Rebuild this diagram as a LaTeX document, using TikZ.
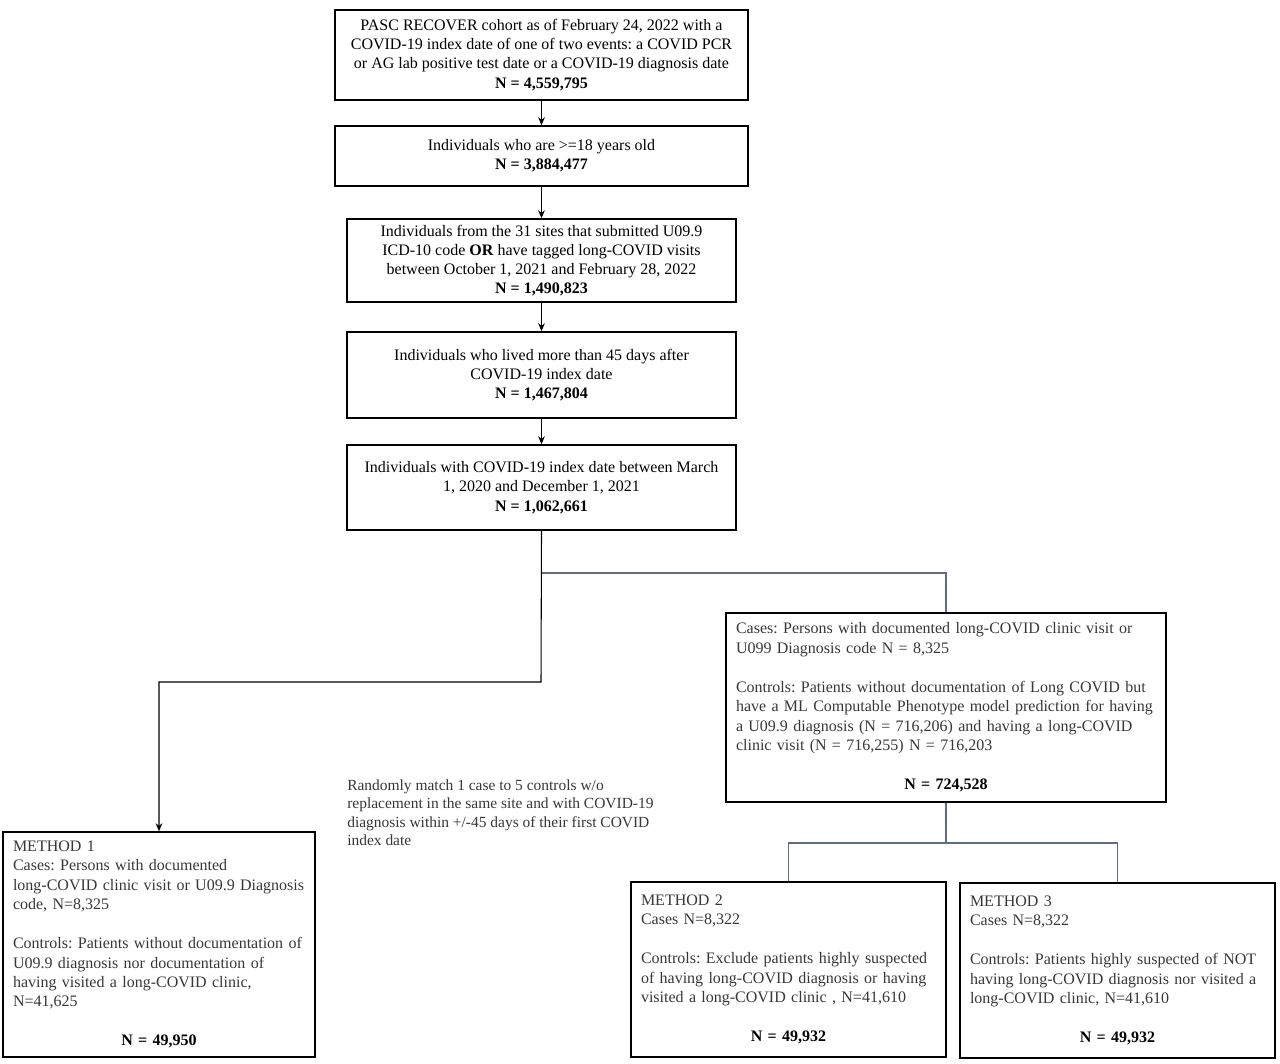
\documentclass[tikz,border=0pt]{standalone}
\usepackage{fontspec}
\setmainfont{Liberation Serif}
\usetikzlibrary{arrows.meta}
\definecolor{linkc}{RGB}{95,108,135}
\definecolor{txtg}{RGB}{55,55,55}
\tikzset{
  box/.style={draw=black, line width=1.1pt, inner sep=0pt, align=center,
    font=\fontsize{12}{14.4}\selectfont},
  lbox/.style={draw=black, line width=1.1pt, inner xsep=7.5pt, inner ysep=0pt,
    align=left, text=txtg, font=\fontsize{12}{14.6}\selectfont},
  arr/.style={black, line width=0.8pt, -{Stealth[length=6pt,width=5pt]}},
  link/.style={linkc, line width=0.9pt},
}
\frenchspacing
\begin{document}
\begin{tikzpicture}[x=0.75pt,y=-0.75pt]
\useasboundingbox (0,0) rectangle (1280,1063);

\node[box, minimum width=309.75pt, minimum height=67.5pt] (b1) at (541.5,55)
  {PASC RECOVER cohort as of February 24, 2022 with a\\
   COVID-19 index date of one of two events: a COVID PCR\\
   or AG lab positive test date or a COVID-19 diagnosis date\\
   \textbf{N = 4,559,795}};
\node[box, minimum width=309.75pt, minimum height=45pt] (b2) at (541.5,156)
  {Individuals who are >=18 years old\\ \textbf{N = 3,884,477}};
\node[box, minimum width=291.75pt, minimum height=62.25pt] (b3) at (541.5,260.5)
  {Individuals from the 31 sites that submitted U09.9\\
   ICD-10 code \textbf{OR} have tagged long-COVID visits\\
   between October 1, 2021 and February 28, 2022\\
   \textbf{N = 1,490,823}};
\node[box, minimum width=291.75pt, minimum height=64.5pt] (b4) at (541.5,375)
  {Individuals who lived more than 45 days after\\
   COVID-19 index date\\
   \textbf{N = 1,467,804}};
\node[box, minimum width=291.75pt, minimum height=63.75pt] (b5) at (541.5,487.5)
  {Individuals with COVID-19 index date between March\\
   1, 2020 and December 1, 2021\\
   \textbf{N = 1,062,661}};

\node[lbox, text width=315pt, minimum width=330pt, minimum height=141.75pt] (b6) at (946,707.5)
  {Cases: Persons with documented long-COVID clinic visit or\\
   U099 Diagnosis code N = 8,325\\[14.6pt]
   Controls: Patients without documentation of Long COVID but\\
   have a ML Computable Phenotype model prediction for having\\
   a U09.9 diagnosis (N = 716,206) and having a long-COVID\\
   clinic visit (N = 716,255) N = 716,203\par\vspace{14.6pt}
   {\centering\color{black}\textbf{N = 724,528}\par}};

\node[lbox, text width=219pt, minimum width=234pt, minimum height=168.75pt] (m1) at (159,944.5)
  {METHOD 1\\
   Cases: Persons with documented\\
   long-COVID clinic visit or U09.9 Diagnosis\\
   code, N=8,325\\[14.6pt]
   Controls: Patients without documentation of\\
   U09.9 diagnosis nor documentation of\\
   having visited a long-COVID clinic,\\
   N=41,625\par\vspace{14.6pt}
   {\centering\color{black}\textbf{N = 49,950}\par}};

\node[lbox, text width=221.25pt, minimum width=236.25pt, minimum height=131.25pt] (m2) at (788.5,969.5)
  {METHOD 2\\
   Cases N=8,322\\[14.6pt]
   Controls: Exclude patients highly suspected\\
   of having long-COVID diagnosis or having\\
   visited a long-COVID clinic , N=41,610\par\vspace{14.6pt}
   {\centering\color{black}\textbf{N = 49,932}\par}};

\node[lbox, text width=221.25pt, minimum width=236.25pt, minimum height=131.25pt] (m3) at (1117.5,970.5)
  {METHOD 3\\
   Cases N=8,322\\[14.6pt]
   Controls: Patients highly suspected of NOT\\
   having long-COVID diagnosis nor visited a\\
   long-COVID clinic, N=41,610\par\vspace{14.6pt}
   {\centering\color{black}\textbf{N = 49,932}\par}};

\node[inner sep=0pt, anchor=west, align=left, text=txtg,
      font=\fontsize{11.6}{13.9}\selectfont] (rm) at (347,812.5)
  {Randomly match 1 case to 5 controls w/o\\
   replacement in the same site and with COVID-19\\
   diagnosis within +/-45 days of their first COVID\\
   index date};

% main chain
\draw[arr] (b1) -- (b2);
\draw[arr] (b2) -- (b3);
\draw[arr] (b3) -- (b4);
\draw[arr] (b4) -- (b5);

% branch to box 6
\coordinate (j2) at (946,573);
\draw[link] (b5.south) |- (j2) -- (b6.north);

% branch to method 1
\coordinate (j3) at (541,682);
\draw[arr] (b5.south) -- (j3) -| (m1.north);

% fork to methods 2 and 3
\coordinate (j4) at (946,843);
\draw[link] (b6.south) -- (j4);
\draw[link] (j4) -| (m2.north);
\draw[link] (j4) -| (m3.north);
\end{tikzpicture}
\end{document}
